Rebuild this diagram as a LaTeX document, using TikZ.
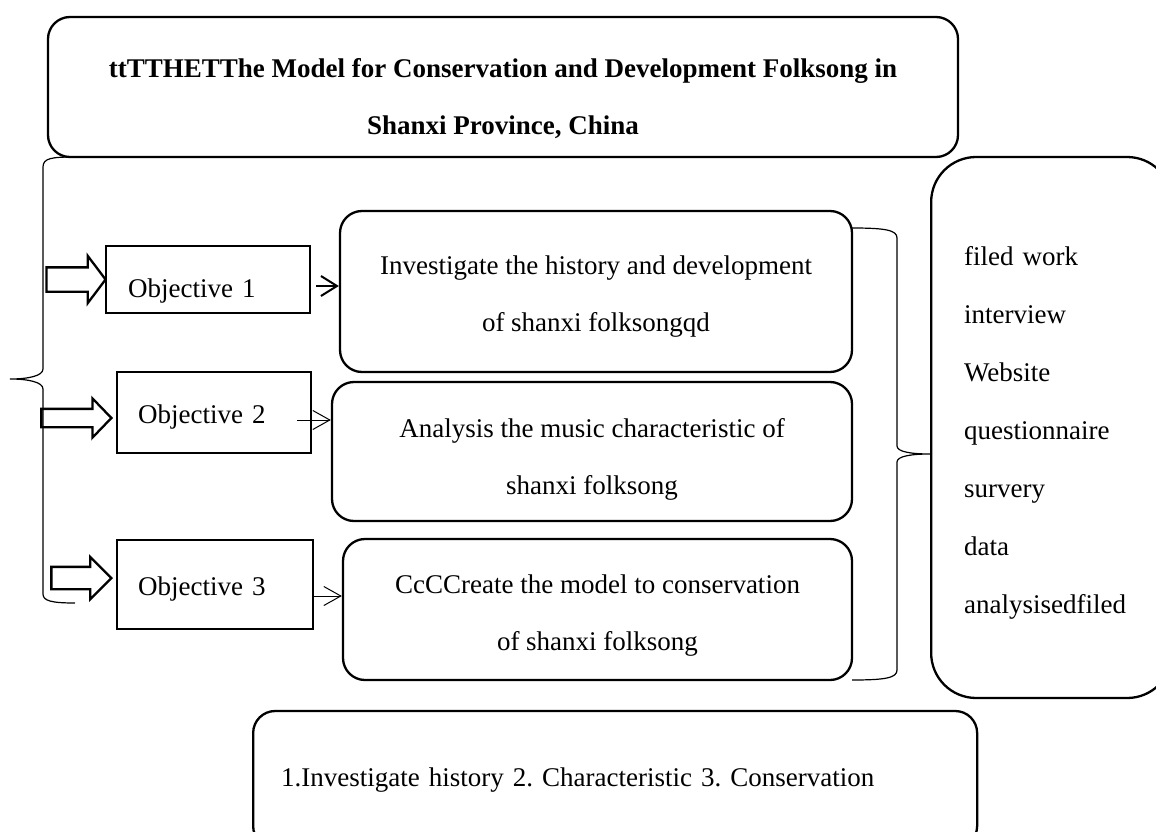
\documentclass[tikz,border=0pt]{standalone}
\usepackage{fontspec}
\setmainfont{Liberation Serif}
\frenchspacing
\usetikzlibrary{positioning, arrows.meta, shapes.arrows}
\tikzset{
    x=1pt, y=-1pt, % one unit per pixel, y pointing down
    every node/.style={font=\fontsize{27}{57}\selectfont},
    roundbox/.style={draw, line width=2.3pt, rounded corners=22pt, align=center, inner sep=0pt, text height=88pt, text depth=6pt},
    objbox/.style={draw, line width=2.3pt, align=left, anchor=west, inner xsep=21pt, inner ysep=0pt, text depth=6pt},
    fatarrow/.style={single arrow, draw, fill=white, line width=2.3pt, inner xsep=0pt},
    link/.style={-{Straight Barb[length=17pt,width=19pt]}, line width=1pt},
    bracepath/.style={line width=1.2pt},
}

\begin{document}
\begin{tikzpicture}
    \useasboundingbox (0,0) rectangle (1156,832);

    % title
    \node[roundbox, minimum width=910pt, minimum height=140pt, text height=102pt,
          font=\fontsize{27}{57}\selectfont\bfseries] (title) at (503,87)
        {ttTTHETThe Model for Conservation and Development Folksong in\\Shanxi Province, China};

    % objectives
    \node[objbox, inner xsep=22pt, text width=160pt, minimum height=67pt, text height=41pt] (obj1) at (105,279.5) {Objective 1};
    \node[objbox, text width=152pt, minimum height=81pt, text height=27pt] (obj2) at (116,412.5) {Objective 2};
    \node[objbox, text width=154pt, minimum height=89pt, text height=27pt] (obj3) at (116,584.5) {Objective 3};

    \node[fatarrow, inner ysep=11pt, single arrow head extend=11.5pt, single arrow tip angle=106,
          minimum height=59pt, left=-2pt of obj1] (arr1) {};
    \node[fatarrow, inner ysep=8pt, single arrow head extend=10.5pt, single arrow tip angle=92,
          minimum height=70pt, left=3pt of obj2, yshift=-5.5pt] (arr2) {};
    \node[fatarrow, inner ysep=10pt, single arrow head extend=10pt, single arrow tip angle=90,
          minimum height=60pt, left=3pt of obj3, yshift=6.5pt] (arr3) {};

    % aims
    \node[roundbox, minimum width=512pt, minimum height=161pt, text height=86pt] (aimA) at (596,291.5)
        {Investigate the history and development\\of shanxi folksongqd};
    \node[roundbox, minimum width=520pt, minimum height=139pt, text height=92pt] (aimB) at (592,451.5)
        {Analysis the music characteristic of\\shanxi folksong};
    \node[roundbox, minimum width=509pt, minimum height=141pt, text height=87pt] (aimC) at (597.5,609.5)
        {CcCCreate the model to conservation\\of shanxi folksong};

    \draw[link, line width=2pt, -{Straight Barb[length=16pt,width=20pt]}]
        ([xshift=5pt,yshift=-6.5pt]obj1.east) -- ([yshift=-6.5pt]obj1.east -| aimA.west);
    \draw[link] ([xshift=-15pt,yshift=-7.5pt]obj2.east) -- ([yshift=-7.5pt]obj2.east -| aimB.west);
    \draw[link] ([yshift=-11.5pt]obj3.east) -- ([yshift=-11.5pt]obj3.east -| aimC.west);

    % methods
    \node[roundbox, rounded corners=45pt, anchor=west, align=left, inner xsep=33pt, text width=175pt,
          minimum height=541pt, text height=19pt, text depth=344pt, font=\fontsize{27}{58}\selectfont] (methods) at (930,427.5)
        {filed work\\interview\\Website\\questionnaire\\survery\\data\\analysisedfiled};

    % summary
    \node[roundbox, anchor=west, align=left, inner xsep=28pt, text width=668pt, minimum height=137pt,
          text height=19pt] (summary) at (252,779.5)
        {1.Investigate history 2. Characteristic 3. Conservation};

    % braces
    \draw[bracepath] (75,157) .. controls (52,157) and (43,158) .. (43,167) -- (43,369)
        .. controls (43,376) and (28,379) .. (10,379) .. controls (28,379) and (43,382) .. (43,389)
        -- (43,594) .. controls (43,601) and (52,603) .. (75,603);
    \draw[bracepath] (852,228) .. controls (885,228) and (897,230) .. (897,238) -- (897,446)
        .. controls (897,452) and (912,454) .. (930,454) .. controls (912,454) and (897,456) .. (897,462)
        -- (897,670) .. controls (897,678) and (885,680) .. (852,680);
\end{tikzpicture}
\end{document}
